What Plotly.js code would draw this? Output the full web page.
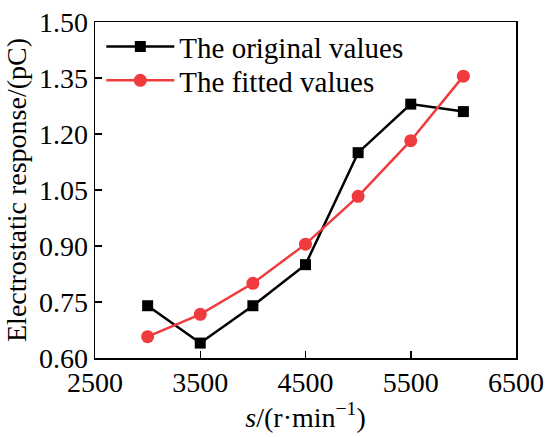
<!DOCTYPE html>
<html>
<head>
<meta charset="utf-8">
<script src="https://cdn.plot.ly/plotly-3.0.1.min.js"></script>
<style>html,body{margin:0;padding:0;background:#fff;}</style>
</head>
<body>
<div id="chart" style="width:550px;height:437px;"></div>
<script>
var speeds = [3000, 3500, 4000, 4500, 5000, 5500, 6000];
var originalValues = [0.74, 0.64, 0.74, 0.85, 1.15, 1.28, 1.26];
var fittedValues = [0.657, 0.717, 0.80, 0.905, 1.033, 1.182, 1.355];
var xTicks = [2500, 3500, 4500, 5500, 6500];
var yTicks = [0.60, 0.75, 0.90, 1.05, 1.20, 1.35, 1.50];
var seriesNames = ['The original values', 'The fitted values'];

var font = '"Liberation Serif", "Times New Roman", serif';

var traces = [
  {x: speeds, y: originalValues, name: seriesNames[0], mode: 'lines+markers', legend: 'legend',
   line: {color: '#000000', width: 2.5}, marker: {symbol: 'square', size: 11, color: '#000000'}},
  {x: speeds, y: fittedValues, name: seriesNames[1], mode: 'lines+markers', legend: 'legend2',
   line: {color: '#ef3b3e', width: 2.5}, marker: {symbol: 'circle', size: 13, color: '#ef3b3e'}}
];

var legendFont = {family: font, size: 29, color: '#000'};
var layout = {
  width: 550, height: 437,
  margin: {l: 95, r: 34, t: 22, b: 79},
  paper_bgcolor: '#ffffff', plot_bgcolor: '#ffffff',
  font: {family: font, size: 29, color: '#000'},
  showlegend: true,
  legend: {x: 0.015, y: 0.927, xanchor: 'left', yanchor: 'middle', bgcolor: 'rgba(0,0,0,0)',
           font: legendFont, itemwidth: 68},
  legend2: {x: 0.015, y: 0.826, xanchor: 'left', yanchor: 'middle', bgcolor: 'rgba(0,0,0,0)',
           font: legendFont, itemwidth: 68},
  xaxis: {
    range: [2500, 6500], tickmode: 'array', tickvals: xTicks, ticktext: xTicks.map(String),
    ticks: 'inside', ticklen: 7, tickwidth: 1.5, tickcolor: '#000', ticklabelstandoff: -1,
    showline: true, linecolor: '#000', linewidth: 1.5, mirror: true,
    showgrid: false, zeroline: false,
    tickfont: {family: font, size: 28, color: '#000'},
    title: {text: '<i>s</i>/(r·min<sup>−1</sup>)', font: {family: font, size: 28, color: '#000'}, standoff: 6}
  },
  yaxis: {
    range: [0.60, 1.50], tickmode: 'array', tickvals: yTicks, ticktext: yTicks.map(function(v){return v.toFixed(2);}),
    ticks: 'inside', ticklen: 7, tickwidth: 1.5, tickcolor: '#000',
    showline: true, linecolor: '#000', linewidth: 1.5, mirror: true,
    showgrid: false, zeroline: false,
    tickfont: {family: font, size: 28, color: '#000'},
    title: {text: 'Electrostatic response/(pC)', font: {family: font, size: 28, color: '#000'}, standoff: 4}
  }
};

Plotly.newPlot('chart', traces, layout, {displayModeBar: false, staticPlot: true});
</script>
</body>
</html>
